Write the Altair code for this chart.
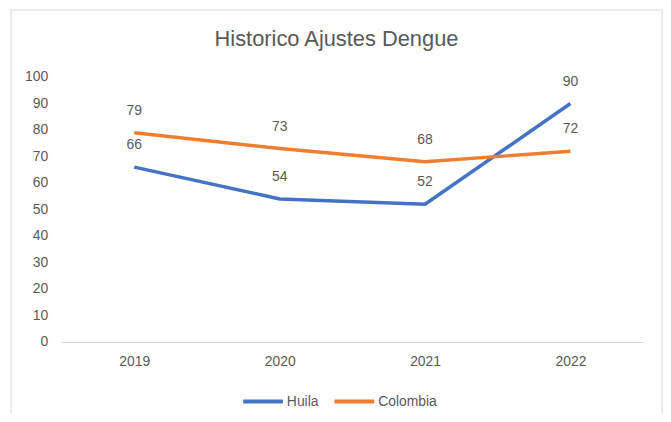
import altair as alt
import pandas as pd

years = ["2019", "2020", "2021", "2022"]
huila = [66, 54, 52, 90]
colombia = [79, 73, 68, 72]
series_names = ["Huila", "Colombia"]
series_colors = ["#4472C4", "#ED7D31"]
y_ticks = [0, 10, 20, 30, 40, 50, 60, 70, 80, 90, 100]

rows = []
for name, vals in zip(series_names, [huila, colombia]):
    for y, v in zip(years, vals):
        rows.append({"year": y, "value": v, "series": name})
df = pd.DataFrame(rows)

FONT = "Liberation Sans"
GRAY = "#595959"

x_enc = alt.X("year:N", sort=years,
              scale=alt.Scale(type="point", padding=0.5),
              axis=alt.Axis(title=None, labelAngle=0, domain=True, domainColor="#d9d9d9",
                            domainWidth=1, ticks=False, grid=False, labelPadding=13,
                            labelFontSize=14, labelColor=GRAY, labelFont=FONT))
y_enc = alt.Y("value:Q", scale=alt.Scale(domain=[0, 100], nice=False),
              axis=alt.Axis(title=None, values=y_ticks, domain=False, ticks=False, grid=False,
                            labelOverlap=False, labelPadding=14, labelFontSize=14,
                            labelColor=GRAY, labelFont=FONT))
color_enc = alt.Color("series:N",
                      scale=alt.Scale(domain=series_names, range=series_colors),
                      legend=alt.Legend(title=None, orient="none", direction="horizontal",
                                        legendX=181, legendY=305, symbolType="stroke",
                                        symbolSize=1600, symbolStrokeWidth=4,
                                        labelFontSize=14, labelColor=GRAY, labelFont=FONT,
                                        labelOffset=2, columnPadding=8))

lines = alt.Chart(df).mark_line(strokeWidth=3.5).encode(
    x=x_enc, y=y_enc, color=color_enc, order=alt.Order("year:N"))

labels = alt.Chart(df).mark_text(dy=-22, fontSize=14, font=FONT, color=GRAY, baseline="middle").encode(
    x=x_enc, y=y_enc, text="value:Q")

frame_df = pd.DataFrame({"k": [0]})
frame_color = "#d9d9d9"
left = alt.Chart(frame_df).mark_rule(color=frame_color, strokeWidth=1).encode(
    x=alt.value(-51), y=alt.value(-68), y2=alt.value(345))
right = alt.Chart(frame_df).mark_rule(color=frame_color, strokeWidth=1).encode(
    x=alt.value(605), y=alt.value(-68), y2=alt.value(345))
top = alt.Chart(frame_df).mark_rule(color=frame_color, strokeWidth=1).encode(
    x=alt.value(-51), x2=alt.value(605), y=alt.value(-67.5))

chart = alt.layer(lines, labels, left, right, top).properties(
    width=586, height=267,
    background="white",
    title=alt.TitleParams("Historico Ajustes Dengue", fontSize=22, fontWeight="normal",
                          color=GRAY, font=FONT, anchor="middle", dx=-16, offset=0,
                          baseline="alphabetic", dy=59),
    autosize=alt.AutoSizeParams(type="none"),
    padding={"left": 54, "top": 68, "right": 20, "bottom": 71},
).configure_view(strokeWidth=0, stroke="transparent")

chart.save("out.html", embed_options={"renderer": "svg", "actions": False})
